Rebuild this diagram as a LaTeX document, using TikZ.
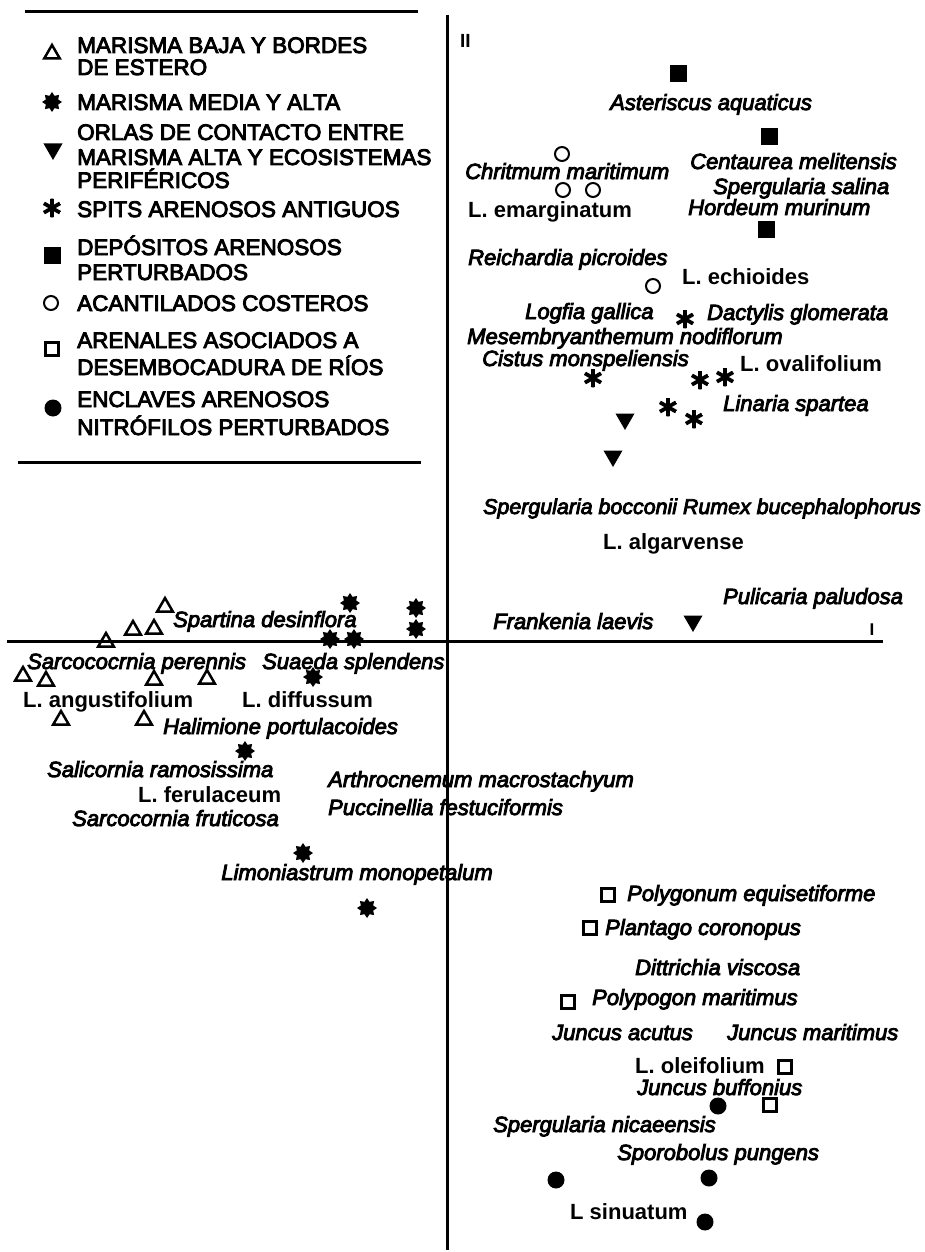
\documentclass[tikz,border=0pt]{standalone}
\usepackage{fontspec}
\setmainfont{Liberation Sans}
\newfontfamily\medf{Liberation Sans}[FakeBold=4]
\newfontfamily\bff{Liberation Sans Bold}
\usetikzlibrary{shapes.geometric}
\begin{document}
\begin{tikzpicture}[x=1pt,y=-1pt,
 sp/.style={font=\medf\fontsize{22}{24}\selectfont\itshape, inner sep=0, anchor=base west},
 lb/.style={font=\bff\fontsize{22}{24}\selectfont, inner sep=0, anchor=base west},
 lg/.style={font=\medf\fontsize{22.5}{25}\selectfont, inner sep=0, anchor=base west},
 fsq/.style={rectangle, fill=black, minimum size=17, inner sep=0},
 osq/.style={rectangle, draw, line width=2.5, minimum size=13, inner sep=0},
 ocir/.style={circle, draw, line width=2, minimum size=14, inner sep=0},
 fcir/.style={circle, fill=black, minimum size=17, inner sep=0},
 utri/.style={regular polygon, regular polygon sides=3, draw, line width=2.5, minimum size=18, inner sep=0},
 dtri/.style={regular polygon, regular polygon sides=3, shape border rotate=180, fill=black, minimum size=22, inner sep=0},
 mstar/.style={star, star points=8, star point ratio=1.5, fill=black, minimum size=20, inner sep=0},
 aster/.style={circle, minimum size=19, inner sep=0, path picture={\foreach \a in {90,30,150}{\draw[line width=3.8] (path picture bounding box.center) ++(\a:9.5) -- ++(\a+180:19);}}},
 axis/.style={line width=3}
]
\fill[white] (0,0) rectangle (925,1252);
\useasboundingbox (0,0) rectangle (925,1252);

% ---------- legend ----------
\coordinate (lt1) at (25,12); \coordinate (lt2) at (418,12);
\coordinate (lb1) at (18,462); \coordinate (lb2) at (421,462);
\draw[axis] (lt1) -- (lt2);
\draw[axis] (lb1) -- (lb2);

\node[utri] (ls1) at (52,54) {};
\node[lg] (l1a) at (77,53) {MARISMA BAJA Y BORDES};
\node[lg] (l1b) at (77,75) {DE ESTERO};
\node[mstar] (ls2) at (52,102) {};
\node[lg] (l2a) at (77,110) {MARISMA MEDIA Y ALTA};
\node[dtri] (ls3) at (53,149) {};
\node[lg] (l3a) at (77,140) {ORLAS DE CONTACTO ENTRE};
\node[lg] (l3b) at (77,165) {MARISMA ALTA Y ECOSISTEMAS};
\node[lg] (l3c) at (77,188) {PERIFÉRICOS};
\node[aster] (ls4) at (52,208) {};
\node[lg] (l4a) at (77,217) {SPITS ARENOSOS ANTIGUOS};
\node[fsq] (ls5) at (52,255) {};
\node[lg] (l5a) at (77,255) {DEPÓSITOS ARENOSOS};
\node[lg] (l5b) at (77,280) {PERTURBADOS};
\node[ocir] (ls6) at (51,303) {};
\node[lg] (l6a) at (77,311) {ACANTILADOS COSTEROS};
\node[osq] (ls7) at (52,349) {};
\node[lg] (l7a) at (77,348) {ARENALES ASOCIADOS A};
\node[lg] (l7b) at (77,375) {DESEMBOCADURA DE RÍOS};
\node[fcir] (ls8) at (53,408) {};
\node[lg] (l8a) at (77,407) {ENCLAVES ARENOSOS};
\node[lg] (l8b) at (77,435) {NITRÓFILOS PERTURBADOS};

% ---------- axes ----------
\coordinate (vt) at (447,15); \coordinate (vb) at (447,1250);
\coordinate (hl) at (7,641); \coordinate (hr) at (883,641);
\draw[axis] (vt) -- (vb);
\draw[axis] (hl) -- (hr);
\node[font=\bff\fontsize{19}{20}\selectfont, inner sep=0, anchor=base west] (axII) at (460,48) {II};
\node[font=\bff\fontsize{17}{20}\selectfont, inner sep=0, anchor=base] (axI) at (872,635) {I};

% ---------- quadrant II ----------
\node[fsq] (q1) at (678,74) {};
\node[fsq] (q2) at (769,137) {};
\node[fsq] (q3) at (766,229) {};
\node[sp] (t1) at (610,110) {Asteriscus aquaticus};
\node[sp] (t2) at (690,169) {Centaurea melitensis};
\node[sp] (t3) at (713,194) {Spergularia salina};
\node[sp] (t4) at (688,215) {Hordeum murinum};
\node[ocir] (c1) at (562,154) {};
\node[ocir] (c2) at (563,190) {};
\node[ocir] (c3) at (593,190) {};
\node[ocir] (c4) at (653,286) {};
\node[sp] (t5) at (465,179) {Chritmum maritimum};
\node[lb] (t6) at (468,217) {L. emarginatum};
\node[sp] (t7) at (468,265) {Reichardia picroides};
\node[lb] (t8) at (682,284) {L. echioides};
\node[sp] (t9) at (525,319) {Logfia gallica};
\node[sp] (t10) at (707,320) {Dactylis glomerata};
\node[sp] (t11) at (467,344) {Mesembryanthemum nodiflorum};
\node[sp] (t12) at (482,366) {Cistus monspeliensis};
\node[lb] (t13) at (740,371) {L. ovalifolium};
\node[sp] (t14) at (723,411) {Linaria spartea};
\node[aster] (a1) at (685,319) {};
\node[aster] (a2) at (593,378) {};
\node[aster] (a3) at (700,380) {};
\node[aster] (a4) at (725,377) {};
\node[aster] (a5) at (668,407) {};
\node[aster] (a6) at (694,419) {};
\node[dtri] (d1) at (625,419) {};
\node[dtri] (d2) at (613,456) {};
\node[sp, font=\medf\fontsize{21.4}{24}\selectfont\itshape] (t15) at (483,514) {Spergularia bocconii Rumex bucephalophorus};
\node[lb] (t16) at (603,549) {L. algarvense};
\node[sp] (t17) at (723,604) {Pulicaria paludosa};
\node[sp] (t18) at (493,629) {Frankenia laevis};
\node[dtri] (d3) at (693,621) {};

% ---------- left side ----------
\node[utri] (u1) at (165,607) {};
\node[utri] (u2) at (133,630) {};
\node[utri] (u3) at (154,629) {};
\node[utri] (u4) at (106,642) {};
\node[utri] (u5) at (23,676) {};
\node[utri] (u6) at (46,681) {};
\node[utri] (u7) at (154,680) {};
\node[utri] (u8) at (207,679) {};
\node[utri] (u9) at (61,720) {};
\node[utri] (u10) at (144,720) {};
\node[mstar] (m1) at (350,603) {};
\node[mstar] (m2) at (416,608) {};
\node[mstar] (m3) at (416,629) {};
\node[mstar] (m4) at (330,639) {};
\node[mstar] (m5) at (354,639) {};
\node[mstar] (m6) at (313,677) {};
\node[mstar] (m7) at (245,751) {};
\node[mstar] (m8) at (303,853) {};
\node[mstar] (m9) at (367,908) {};
\node[sp] (t19) at (173,627) {Spartina desinflora};
\node[sp] (t20) at (27,669) {Sarcococrnia perennis};
\node[sp] (t21) at (262,669) {Suaeda splendens};
\node[lb] (t22) at (23,707) {L. angustifolium};
\node[lb] (t23) at (242,707) {L. diffussum};
\node[sp] (t24) at (163,734) {Halimione portulacoides};
\node[sp] (t25) at (47,777) {Salicornia ramosissima};
\node[lb] (t26) at (138,802) {L. ferulaceum};
\node[sp] (t27) at (72,826) {Sarcocornia fruticosa};
\node[sp] (t28) at (328,787) {Arthrocnemum macrostachyum};
\node[sp] (t29) at (328,815) {Puccinellia festuciformis};
\node[sp, anchor=base east] (t30) at (493,880) {Limoniastrum monopetalum};

% ---------- quadrant IV ----------
\node[osq] (o1) at (608,895) {};
\node[osq] (o2) at (590,928) {};
\node[osq] (o3) at (568,1002) {};
\node[osq] (o4) at (785,1067) {};
\node[osq] (o5) at (770,1105) {};
\node[fcir] (f1) at (718,1106) {};
\node[fcir] (f2) at (556,1180) {};
\node[fcir] (f3) at (709,1178) {};
\node[fcir] (f4) at (705,1222) {};
\node[sp] (t31) at (627,901) {Polygonum equisetiforme};
\node[sp] (t32) at (605,935) {Plantago coronopus};
\node[sp] (t33) at (635,975) {Dittrichia viscosa};
\node[sp] (t34) at (592,1005) {Polypogon maritimus};
\node[sp] (t35) at (552,1040) {Juncus acutus};
\node[sp] (t36) at (727,1040) {Juncus maritimus};
\node[lb] (t37) at (635,1073) {L. oleifolium};
\node[sp] (t38) at (637,1095) {Juncus buffonius};
\node[sp] (t39) at (493,1132) {Spergularia nicaeensis};
\node[sp] (t40) at (617,1160) {Sporobolus pungens};
\node[lb] (t41) at (570,1219) {L sinuatum};
\end{tikzpicture}
\end{document}
